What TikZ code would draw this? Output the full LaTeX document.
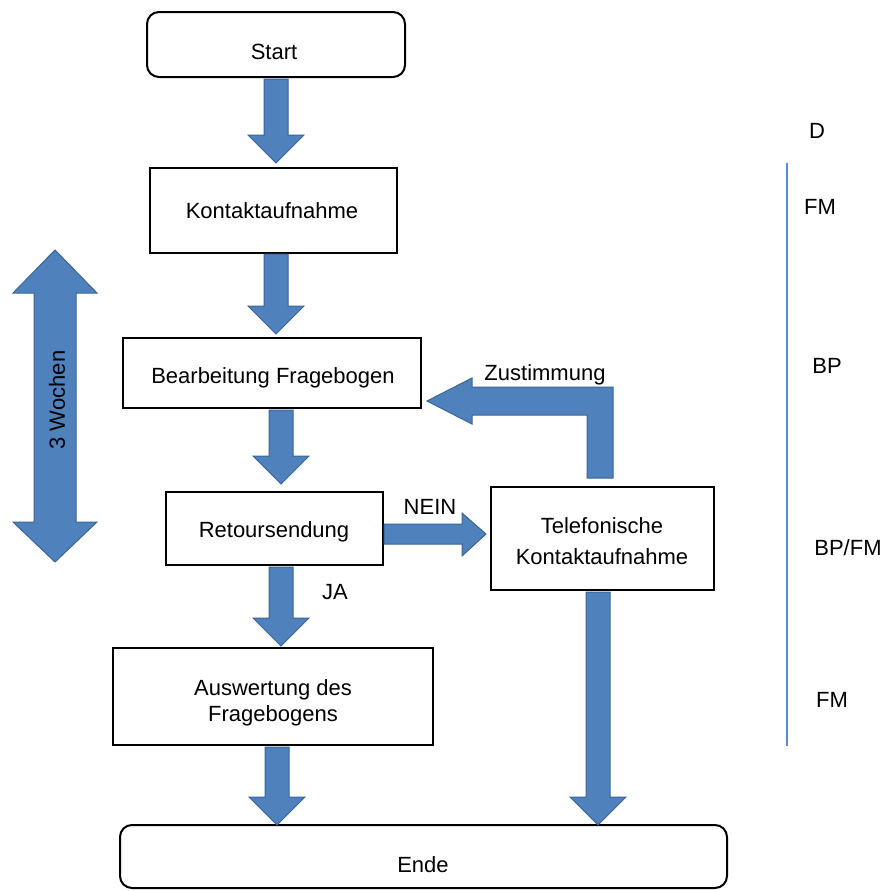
\documentclass[tikz,border=0pt]{standalone}
\usepackage{fontspec}
\setmainfont{Liberation Sans}
\definecolor{arrowblue}{HTML}{4F81BD}
\definecolor{arrowedge}{HTML}{3A6596}
\definecolor{lineblue}{HTML}{5B8BD0}
\begin{document}
\begin{tikzpicture}[x=0.5pt,y=-0.5pt,
  box/.style={draw=black, line width=1pt, fill=white, inner sep=0pt},
  rbox/.style={box, rounded corners=6pt},
  txt/.style={font=\fontsize{11}{13}\selectfont, inner sep=0pt, align=center},
  blockarrow/.style={fill=arrowblue, draw=arrowedge, line width=0.5pt, line join=miter}]
\useasboundingbox (0,0) rectangle (883,891);
% boxes
\node[rbox, minimum width=129pt, minimum height=32.5pt] (start) at (276,44.5) {};
\node[box, minimum width=123.5pt, minimum height=42.5pt] (kontakt) at (273.5,210.5) {};
\node[box, minimum width=149pt, minimum height=35pt] (bearb) at (272,373) {};
\node[box, minimum width=108.5pt, minimum height=36.5pt] (retour) at (274.5,528.5) {};
\node[box, minimum width=111.5pt, minimum height=51.5pt] (telef) at (602.5,538.5) {};
\node[box, minimum width=160pt, minimum height=48.5pt] (ausw) at (273,696.5) {};
\node[rbox, minimum width=303.5pt, minimum height=31.5pt] (ende) at (423.5,856.5) {};
% texts
\node[txt] (tstart) at (274,52) {Start};
\node[txt] (tkontakt) at (272,211) {Kontaktaufnahme};
\node[txt] (tbearb) at (273,378) {Bearbeitung Fragebogen};
\node[txt] (tretour) at (274,532) {Retoursendung};
\node[txt, font=\fontsize{11}{15.5}\selectfont] (ttelef) at (602,541) {Telefonische\\Kontaktaufnahme};
\node[txt] (tausw) at (273,703) {Auswertung des\\Fragebogens};
\node[txt] (tende) at (423,865) {Ende};
\node[txt] (tnein) at (430,507) {NEIN};
\node[txt] (tja) at (335,592) {JA};
\node[txt] (tzust) at (545,375) {Zustimmung};
% right column
\draw[lineblue, line width=0.6pt] (787,163) -- (787,746);
\node[txt] (lD) at (817,131) {D};
\node[txt] (lFM1) at (820,207) {FM};
\node[txt] (lBP) at (827,366) {BP};
\node[txt] (lBPFM) at (848,548) {BP/FM};
\node[txt] (lFM2) at (832,700) {FM};
% vertical block arrows (down)
\newcommand{\downblock}[3]{%
  \draw[blockarrow] ({#1-12},#2) -- ({#1+12},#2) -- ({#1+12},{#3-28}) -- ({#1+28},{#3-28})
    -- (#1,#3) -- ({#1-28},{#3-28}) -- ({#1-12},{#3-28}) -- cycle;}
\downblock{276}{79}{163}
\downblock{276}{254}{334}
\downblock{281}{410}{484}
\downblock{281}{567}{646}
\downblock{277}{747}{825}
\downblock{598}{592}{825}
% NEIN arrow
\draw[blockarrow] (384,524) -- (462,524) -- (462,513) -- (486,534) -- (462,556) -- (462,544) -- (384,544) -- cycle;
% Zustimmung bent arrow
\draw[blockarrow] (587,478) -- (613,478) -- (613,387) -- (472,387) -- (472,378) -- (427,401)
  -- (472,424) -- (472,415) -- (587,415) -- cycle;
% 3 Wochen double arrow
\draw[blockarrow] (55,250) -- (97,293) -- (76,293) -- (76,522) -- (97,522) -- (55,562)
  -- (13,522) -- (34,522) -- (34,293) -- (13,293) -- cycle;
\node[txt, rotate=90] (twochen) at (57,400) {3 Wochen};
\end{tikzpicture}
\end{document}
